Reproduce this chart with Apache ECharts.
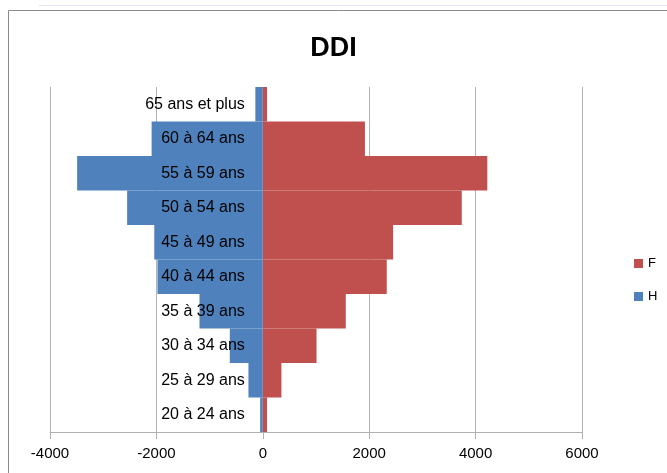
<!DOCTYPE html>
<html>
<head>
<meta charset="utf-8">
<script src="https://cdn.jsdelivr.net/npm/echarts@6/dist/echarts.min.js"></script>
<style>html,body{margin:0;padding:0;background:#fff;}#c{width:667px;height:473px;}</style>
</head>
<body>
<div id="c"></div>
<script>
const categories = ['20 à 24 ans','25 à 29 ans','30 à 34 ans','35 à 39 ans','40 à 44 ans','45 à 49 ans','50 à 54 ans','55 à 59 ans','60 à 64 ans','65 ans et plus'];
const femmes = [80, 350, 1010, 1560, 2330, 2450, 3740, 4220, 1920, 80];
const hommes = [-50, -270, -620, -1190, -1980, -2040, -2550, -3490, -2090, -140];
const xTicks = { min: -4000, max: 6000, interval: 2000 };
const seriesNames = ['F', 'H'];

const chart = echarts.init(document.getElementById('c'), null, { renderer: 'canvas' });
chart.setOption({
  animation: false,
  backgroundColor: '#fff',
  textStyle: { fontFamily: 'Liberation Sans, Arial, sans-serif' },
  title: {
    text: 'DDI', left: 'center', top: 30,
    textStyle: { fontSize: 27, fontWeight: 'bold', color: '#000', fontFamily: 'Liberation Sans, Arial, sans-serif' }
  },
  graphic: [
    { type: 'rect', shape: { x: 8.5, y: 10.5, width: 700, height: 500 }, style: { fill: 'none', stroke: '#8a8a8a', lineWidth: 1 }, silent: true },
    { type: 'line', shape: { x1: 39, y1: 5.5, x2: 667, y2: 5.5 }, style: { stroke: '#e4e4f4', lineWidth: 1 }, silent: true }
  ],
  legend: {
    orient: 'vertical', left: 629, top: 252, itemWidth: 9, itemHeight: 9, itemGap: 20,
    icon: 'rect',
    textStyle: { fontSize: 13, color: '#000' },
    data: seriesNames
  },
  grid: { left: 50, right: 85, top: 87, bottom: 41, containLabel: false, outerBoundsMode: 'none' },
  xAxis: {
    type: 'value', min: xTicks.min, max: xTicks.max, interval: xTicks.interval,
    axisLine: { show: true, onZero: false, lineStyle: { color: '#b0b0b0' } },
    axisTick: { show: true, length: 7, lineStyle: { color: '#b0b0b0' } },
    splitLine: { show: true, lineStyle: { color: '#b3b3b3' } },
    axisLabel: { fontSize: 15, color: '#000', margin: 14, formatter: function (v) { return String(v); } }
  },
  yAxis: {
    type: 'category', data: categories,
    axisLine: { show: false },
    axisTick: { show: false },
    axisLabel: { show: false }
  },
  series: [
    { name: seriesNames[0], type: 'bar', data: femmes, barGap: '-100%', barCategoryGap: 0, itemStyle: { color: '#C0504D' } },
    { name: seriesNames[1], type: 'bar', data: hommes, barGap: '-100%', barCategoryGap: 0, itemStyle: { color: '#4F81BD' },
      label: { show: true, position: 'insideRight', distance: 18, formatter: '{b}', color: '#000', fontSize: 16, fontFamily: 'Liberation Sans, Arial, sans-serif' } }
  ]
});
</script>
</body>
</html>
